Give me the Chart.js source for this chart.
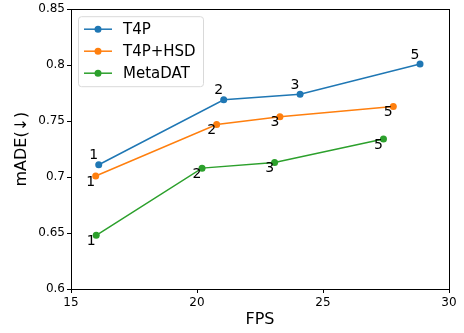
<!DOCTYPE html>
<html>
<head>
<meta charset="utf-8">
<script src="https://cdn.jsdelivr.net/npm/chart.js@4"></script>
<style>
  html, body { margin: 0; padding: 0; background: #fff; }
  #wrap { width: 464px; height: 333px; }
</style>
</head>
<body>
<div id="wrap"><canvas id="chart" width="464" height="333"></canvas></div>
<script>
// Data
const seriesNames = ["T4P", "T4P+HSD", "MetaDAT"];
const seriesColors = ["#1f77b4", "#ff7f0e", "#2ca02c"];
const pointTags = ["1", "2", "3", "5"];

const t4pFps = [16.1, 21.06, 24.09, 28.85];
const t4pMade = [0.711, 0.769, 0.774, 0.801];
const hsdFps = [15.98, 20.78, 23.29, 27.79];
const hsdMade = [0.701, 0.747, 0.754, 0.763];
const metaFps = [16.0, 20.2, 23.08, 27.4];
const metaMade = [0.648, 0.708, 0.713, 0.734];

const xTicks = [15, 20, 25, 30];
const yTicks = [0.6, 0.65, 0.7, 0.75, 0.8, 0.85];

const FONT = "'DejaVu Sans', sans-serif";

function toPoints(xs, ys) {
    return xs.map((x, i) => ({ x: x, y: ys[i] }));
}

const allData = [
    toPoints(t4pFps, t4pMade),
    toPoints(hsdFps, hsdMade),
    toPoints(metaFps, metaMade),
];

// label offsets (T4P above-left, others below-left)
const tagOffsets = [[-5, -9], [-5, 6], [-5, 6]];

// Frame, point tags and legend
const extras = {
    id: "extras",
    afterDatasetsDraw(chart) {
        const ctx = chart.ctx;
        const a = chart.chartArea;
        ctx.save();
        ctx.strokeStyle = "#000";
        ctx.lineWidth = 1;
        ctx.strokeRect(Math.round(a.left) + 0.5, Math.round(a.top) + 0.5,
            Math.round(a.right - a.left), Math.round(a.bottom - a.top));

        // point tags
        ctx.fillStyle = "#000";
        ctx.font = "14px " + FONT;
        ctx.textAlign = "center";
        ctx.textBaseline = "middle";
        chart.data.datasets.forEach((ds, di) => {
            const meta = chart.getDatasetMeta(di);
            meta.data.forEach((pt, i) => {
                ctx.fillText(pointTags[i], pt.x + tagOffsets[di][0], pt.y + tagOffsets[di][1]);
            });
        });

        // legend
        const lx = a.left + 7, ly = a.top + 7, lw = 125, lh = 70;
        ctx.fillStyle = "rgba(255,255,255,0.8)";
        ctx.strokeStyle = "#d9d9d9";
        ctx.beginPath();
        ctx.roundRect(lx + 0.5, ly + 0.5, lw, lh, 3);
        ctx.fill();
        ctx.stroke();
        ctx.font = "15px " + FONT;
        ctx.textAlign = "left";
        seriesNames.forEach((name, i) => {
            const y = ly + 13 + i * 22;
            ctx.strokeStyle = seriesColors[i];
            ctx.lineWidth = 1.5;
            ctx.beginPath();
            ctx.moveTo(lx + 6, y);
            ctx.lineTo(lx + 34, y);
            ctx.stroke();
            ctx.fillStyle = seriesColors[i];
            ctx.beginPath();
            ctx.arc(lx + 20, y, 3.5, 0, Math.PI * 2);
            ctx.fill();
            ctx.fillStyle = "#000";
            ctx.fillText(name, lx + 45, y + 1);
        });
        ctx.restore();
    }
};

new Chart(document.getElementById("chart"), {
    type: "line",
    data: {
        datasets: allData.map((pts, i) => ({
            label: seriesNames[i],
            data: pts,
            borderColor: seriesColors[i],
            backgroundColor: seriesColors[i],
            borderWidth: 1.5,
            pointRadius: 3.5,
            pointHoverRadius: 3.5,
            pointBorderWidth: 0,
            tension: 0,
        })),
    },
    options: {
        responsive: false,
        animation: false,
        layout: { padding: { top: 8, right: 15, left: 0, bottom: 0 } },
        plugins: { legend: { display: false }, tooltip: { enabled: false } },
        scales: {
            x: {
                type: "linear",
                min: 15,
                max: 30,
                afterBuildTicks(axis) { axis.ticks = xTicks.map(v => ({ value: v })); },
                afterFit(axis) { axis.height = 44; },
                grid: { drawOnChartArea: false, tickLength: 4, color: "#000" },
                border: { display: false },
                ticks: { color: "#000", font: { family: FONT, size: 12 }, padding: 3, maxRotation: 0 },
                title: { display: true, text: "FPS", color: "#000", font: { family: FONT, size: 16 }, padding: { top: 7 } },
            },
            y: {
                type: "linear",
                min: 0.6,
                max: 0.85,
                afterBuildTicks(axis) { axis.ticks = yTicks.map(v => ({ value: v })); },
                afterFit(axis) { axis.width = 71; },
                grid: { drawOnChartArea: false, tickLength: 4, color: "#000" },
                border: { display: false },
                ticks: { color: "#000", font: { family: FONT, size: 12 }, padding: 2,
                    callback: v => String(parseFloat(v.toFixed(2))) },
                title: { display: true, text: "mADE(↓)", color: "#000", font: { family: FONT, size: 16 }, padding: { top: 12, bottom: 2 } },
            },
        },
    },
    plugins: [extras],
});
</script>
</body>
</html>
